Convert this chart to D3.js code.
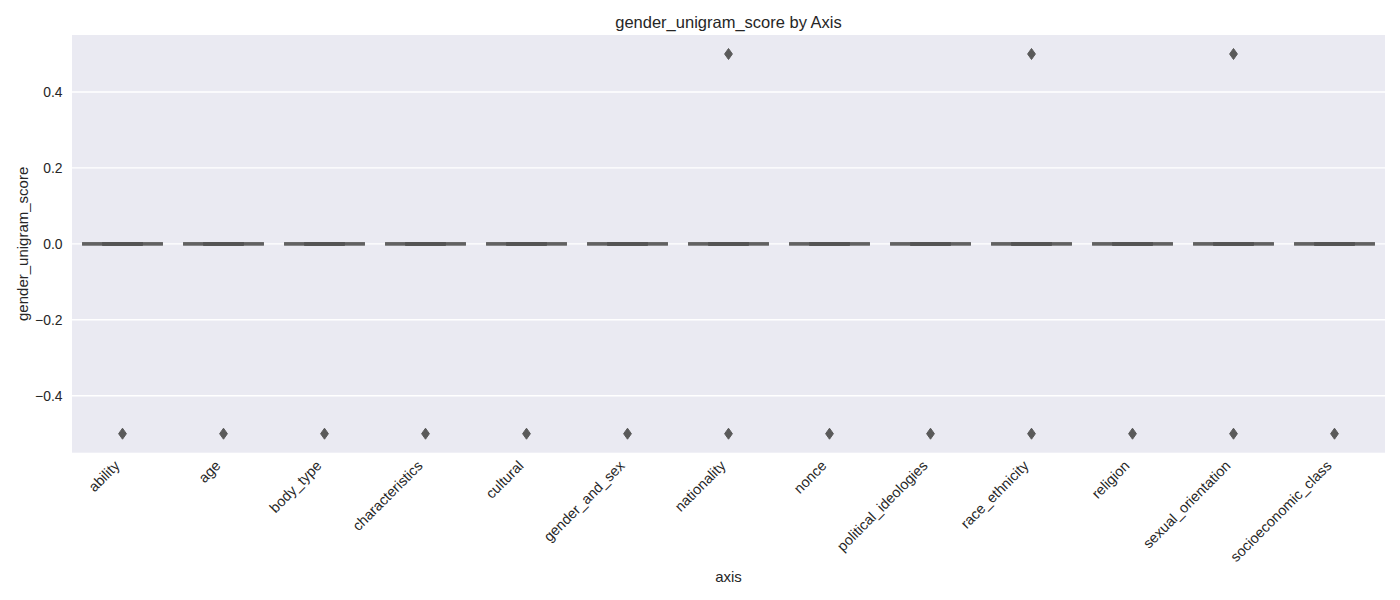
<!DOCTYPE html>
<html>
<head>
<meta charset="utf-8">
<script src="https://cdn.jsdelivr.net/npm/d3@7"></script>
<style>
  html, body { margin: 0; padding: 0; background: #fff; }
  svg { display: block; font-family: "Liberation Sans", Arial, sans-serif; }
</style>
</head>
<body>
<svg id="chart" width="1400" height="600"></svg>
<script>
// ---- data ----
const categories = ["ability", "age", "body_type", "characteristics", "cultural", "gender_and_sex",
  "nationality", "nonce", "political_ideologies", "race_ethnicity", "religion", "sexual_orientation",
  "socioeconomic_class"];
const q1 =      [0, 0, 0, 0, 0, 0, 0, 0, 0, 0, 0, 0, 0];
const medians = [0, 0, 0, 0, 0, 0, 0, 0, 0, 0, 0, 0, 0];
const q3 =      [0, 0, 0, 0, 0, 0, 0, 0, 0, 0, 0, 0, 0];
const whiskerLow =  [0, 0, 0, 0, 0, 0, 0, 0, 0, 0, 0, 0, 0];
const whiskerHigh = [0, 0, 0, 0, 0, 0, 0, 0, 0, 0, 0, 0, 0];
const outliersLow =  [-0.5, -0.5, -0.5, -0.5, -0.5, -0.5, -0.5, -0.5, -0.5, -0.5, -0.5, -0.5, -0.5];
const outliersHigh = [null, null, null, null, null, null, 0.5, null, null, 0.5, null, 0.5, null];
const yTicks = [-0.4, -0.2, 0.0, 0.2, 0.4];
const title = "gender_unigram_score by Axis";
const xLabel = "axis";
const yLabel = "gender_unigram_score";

// ---- layout ----
const margin = { left: 72, right: 1385, top: 35, bottom: 452.7 };
const svg = d3.select("#chart");

const x = d3.scaleBand().domain(categories).range([margin.left, margin.right]).paddingInner(0).paddingOuter(0);
const y = d3.scaleLinear().domain([-0.55, 0.55]).range([margin.bottom, margin.top]);

// background
svg.append("rect")
  .attr("x", margin.left).attr("y", margin.top)
  .attr("width", margin.right - margin.left).attr("height", margin.bottom - margin.top)
  .attr("fill", "#EAEAF2");

// grid
svg.append("g").selectAll("line").data(yTicks).join("line")
  .attr("x1", margin.left).attr("x2", margin.right)
  .attr("y1", d => y(d)).attr("y2", d => y(d))
  .attr("stroke", "#fff").attr("stroke-width", 1.4);

// y axis
const yAxis = svg.append("g").attr("transform", `translate(${margin.left - 9.5},0)`)
  .call(d3.axisLeft(y).tickValues(yTicks).tickFormat(d3.format(".1f")).tickSize(0).tickPadding(0));
yAxis.select(".domain").remove();
yAxis.selectAll("text").attr("font-size", 13.9).attr("fill", "#262626")
  .attr("font-family", "Liberation Sans, Arial, sans-serif").attr("dy", "0.35em");

// x axis labels
const xAxis = svg.append("g").attr("transform", `translate(0,${margin.bottom})`)
  .call(d3.axisBottom(x).tickSize(0).tickPadding(0));
xAxis.select(".domain").remove();
xAxis.selectAll("text")
  .attr("font-size", 14.4).attr("fill", "#262626")
  .attr("font-family", "Liberation Sans, Arial, sans-serif")
  .attr("text-anchor", "end")
  .attr("y", 0).attr("dy", 0)
  .attr("transform", "translate(-2,14) rotate(-45)");

// boxes
const boxW = x.bandwidth() * 0.8;
const capW = boxW / 2;
const lineColor = "#626262";
const g = svg.append("g");
categories.forEach((c, i) => {
  const cx = x(c) + x.bandwidth() / 2;
  // whiskers
  g.append("line").attr("x1", cx).attr("x2", cx)
    .attr("y1", y(q1[i])).attr("y2", y(whiskerLow[i]))
    .attr("stroke", lineColor).attr("stroke-width", 3);
  g.append("line").attr("x1", cx).attr("x2", cx)
    .attr("y1", y(q3[i])).attr("y2", y(whiskerHigh[i]))
    .attr("stroke", lineColor).attr("stroke-width", 3);
  // box
  g.append("rect").attr("x", cx - boxW / 2).attr("y", y(q3[i]) - 1.6)
    .attr("width", boxW).attr("height", y(q1[i]) - y(q3[i]) + 3.2)
    .attr("fill", lineColor).attr("stroke", "none");
  // median
  g.append("line").attr("x1", cx - boxW / 2).attr("x2", cx + boxW / 2)
    .attr("y1", y(medians[i])).attr("y2", y(medians[i]))
    .attr("stroke", lineColor).attr("stroke-width", 3.2);
  // caps
  [whiskerLow[i], whiskerHigh[i]].forEach(v => {
    g.append("line").attr("x1", cx - capW / 2).attr("x2", cx + capW / 2)
      .attr("y1", y(v)).attr("y2", y(v))
      .attr("stroke", "#545454").attr("stroke-width", 3.6);
  });
  // outliers
  [outliersLow[i], outliersHigh[i]].filter(v => v !== null).forEach(v => {
    const oy = y(v);
    g.append("path")
      .attr("d", `M${cx},${oy - 5.5} L${cx + 3.9},${oy} L${cx},${oy + 5.5} L${cx - 3.9},${oy} Z`)
      .attr("fill", "#5a5a5a").attr("stroke", "#5a5a5a").attr("stroke-width", 1)
      .attr("stroke-linejoin", "round");
  });
});

// title and labels
svg.append("text").attr("x", (margin.left + margin.right) / 2).attr("y", 28)
  .attr("text-anchor", "middle").attr("font-size", 16.5).attr("fill", "#262626").text(title);
svg.append("text").attr("x", (margin.left + margin.right) / 2).attr("y", 582)
  .attr("text-anchor", "middle").attr("font-size", 15).attr("fill", "#262626").text(xLabel);
svg.append("text").attr("transform", `translate(28,${(margin.top + margin.bottom) / 2}) rotate(-90)`)
  .attr("text-anchor", "middle").attr("font-size", 15).attr("fill", "#262626").text(yLabel);
</script>
</body>
</html>
